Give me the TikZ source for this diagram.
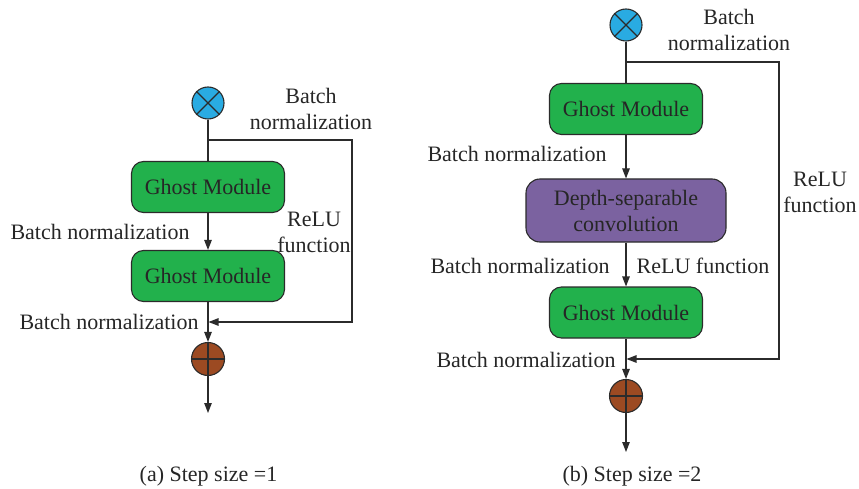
\documentclass[tikz,border=0pt]{standalone}
\usepackage{fontspec}
\setmainfont{Liberation Serif}
\usetikzlibrary{arrows.meta}
\definecolor{gmgreen}{HTML}{22B14C}
\definecolor{mulblue}{HTML}{29ABE2}
\definecolor{sumbrown}{HTML}{9C4A22}
\definecolor{dwpurple}{HTML}{7B62A0}
\definecolor{linec}{HTML}{2B2B2B}
\begin{document}
\begin{tikzpicture}[x=1pt,y=-1pt,
  font=\fontsize{22}{26}\selectfont,
  line width=1.1pt,
  ghost/.style={draw=linec, fill=gmgreen, rounded corners=12pt, minimum width=153pt, minimum height=51pt, inner sep=0pt, text=black!85},
  dwbox/.style={draw=linec, fill=dwpurple, rounded corners=14pt, minimum width=200pt, minimum height=63pt, inner sep=0pt, align=center, text=black!85},
  mulnode/.style={circle, draw=linec, fill=mulblue, minimum size=32pt, inner sep=0pt},
  sumnode/.style={circle, draw=linec, fill=sumbrown, minimum size=33pt, inner sep=0pt},
  lbl/.style={inner sep=0pt, align=center, text=black!85},
  arr/.style={draw=linec, -{Triangle[length=10pt,width=7.5pt]}},
  ln/.style={draw=linec}
]
\useasboundingbox (0,0) rectangle (859,489);

% ---------- (a) ----------
\node[mulnode] (m1) at (208,103) {};
\draw[ln] (m1.north west) -- (m1.south east) (m1.north east) -- (m1.south west);
\node[ghost] (g1) at (208,187) {Ghost Module};
\node[ghost] (g2) at (208,276) {Ghost Module};
\node[sumnode] (s1) at (208,359) {};
\draw[ln] (s1.north) -- (s1.south) (s1.west) -- (s1.east);
\coordinate (b1) at (208,140);
\coordinate (c1) at (352,140);
\coordinate (j1) at (208.5,322);
\coordinate (o1) at (208,413);

\draw[ln] (m1.south) -- (g1.north);
\draw[arr] (g1.south) -- (g2.north);
\draw[arr] (g2.south) -- (s1.north);
\draw[arr] (s1.south) -- (o1);
\draw[arr] (b1) -- (c1) |- (j1);

\node[lbl] (t1) at (311,108.5) {Batch\\normalization};
\node[lbl] (t2) at (100,232) {Batch normalization};
\node[lbl] (t3) at (314,232) {ReLU\\function};
\node[lbl] (t4) at (109,322) {Batch normalization};
\node[lbl] (cap1) at (208.5,476) {(a) Step size =1};

% ---------- (b) ----------
\node[mulnode] (m2) at (626,25) {};
\draw[ln] (m2.north west) -- (m2.south east) (m2.north east) -- (m2.south west);
\node[ghost] (g3) at (626,109) {Ghost Module};
\node[dwbox] (d1) at (626,210.5) {Depth-separable\\convolution};
\node[ghost] (g4) at (626,312.5) {Ghost Module};
\node[sumnode] (s2) at (626,396) {};
\draw[ln] (s2.north) -- (s2.south) (s2.west) -- (s2.east);
\coordinate (b2) at (626,62);
\coordinate (c2) at (779,62);
\coordinate (j2) at (626.5,359);
\coordinate (o2) at (626,452);

\draw[ln] (m2.south) -- (g3.north);
\draw[arr] (g3.south) -- (d1.north);
\draw[arr] (d1.south) -- (g4.north);
\draw[arr] (g4.south) -- (s2.north);
\draw[arr] (s2.south) -- (o2);
\draw[arr] (b2) -- (c2) |- (j2);

\node[lbl] (t5) at (729,30) {Batch\\normalization};
\node[lbl] (t6) at (517,154) {Batch normalization};
\node[lbl] (t7) at (520,266) {Batch normalization};
\node[lbl] (t8) at (703,266) {ReLU function};
\node[lbl] (t9) at (526,360) {Batch normalization};
\node[lbl] (t10) at (820,192) {ReLU\\function};
\node[lbl] (cap2) at (632,476) {(b) Step size =2};
\end{tikzpicture}
\end{document}
